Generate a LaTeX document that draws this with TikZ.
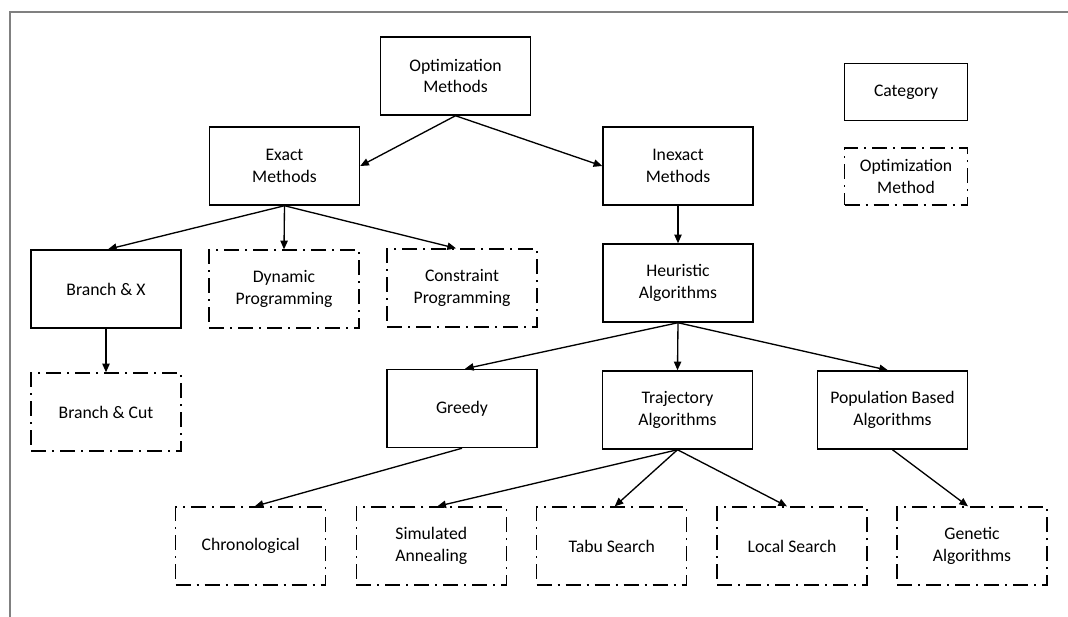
\documentclass[tikz,border=0pt]{standalone}
\usepackage{fontspec}
\setmainfont{Carlito}
\usetikzlibrary{arrows.meta}
\definecolor{framegray}{RGB}{128,128,128}
\begin{document}
\begin{tikzpicture}[x=0.75pt,y=-0.75pt,
  catbox/.style={draw, line width=1.1pt, minimum width=112.5pt, minimum height=58.5pt,
    inner sep=0pt, align=center, font=\fontsize{13.25pt}{16.2pt}\selectfont},
  methbox/.style={catbox, line width=1pt, dash pattern=on 11.25pt off 4.5pt on 1.5pt off 4.5pt},
  legcat/.style={catbox, minimum width=92.25pt, minimum height=42.75pt},
  legmeth/.style={methbox, minimum width=92.25pt, minimum height=42.75pt},
  arr/.style={-{Triangle[length=6.5pt,width=5.5pt]}, line width=1pt}]
\useasboundingbox (0,0) rectangle (1068,617);
\draw[framegray, line width=1.5pt] (1068,12) -- (10,12) -- (10,617);

% nodes
\node[catbox] (opt) at (455.5,76) {Optimization\\Methods};
\node[catbox] (exact) at (284.5,166) {Exact\\Methods};
\node[catbox] (inexact) at (678,166) {Inexact\\Methods};
\node[catbox] (heur) at (678,283) {Heuristic\\Algorithms};
\node[catbox] (bx) at (106,289) {Branch \& X};
\node[methbox] (dyn) at (284,289) {Dynamic\\Programming};
\node[methbox] (cons) at (462,288) {Constraint\\Programming};
\node[methbox] (bcut) at (106,412) {Branch \& Cut};
\node[catbox] (greedy) at (462,408.5) {Greedy};
\node[catbox] (traj) at (677.5,410) {Trajectory\\Algorithms};
\node[catbox] (pop) at (892.5,410) {Population Based\\Algorithms};
\node[methbox] (chron) at (250.7,546) {Chronological};
\node[methbox] (sim) at (431.3,546) {Simulated\\Annealing};
\node[methbox] (tabu) at (611.7,546) {Tabu Search};
\node[methbox] (local) at (792,546) {Local Search};
\node[methbox] (gen) at (972,546) {Genetic\\Algorithms};
\node[legcat] (legc) at (906,92) {Category};
\node[legmeth] (legm) at (906,176.5) {Optimization\\Method};

% connectors
\draw[arr] (opt.south) -- (exact.east);
\draw[arr] (opt.south) -- (inexact.west);
\draw[arr] (exact.south) -- ([xshift=1.5pt]bx.north);
\draw[arr] (exact.south) -- (dyn.north);
\draw[arr] (exact.south) -- ([xshift=-4.5pt]cons.north);
\draw[arr] (bx.south) -- (bcut.north);
\draw[arr] (inexact.south) -- (heur.north);
\draw[arr] (heur.south) -- ([xshift=2.25pt]greedy.north);
\draw[arr] (heur.south) -- (traj.north);
\draw[arr] (heur.south) -- ([xshift=-3.4pt]pop.north);
\draw[arr] (greedy.south) -- ([xshift=3pt]chron.north);
\draw[arr] (traj.south) -- ([xshift=4.5pt]sim.north);
\draw[arr] (traj.south) -- ([xshift=2.25pt]tabu.north);
\draw[arr] (traj.south) -- ([xshift=-3.75pt]local.north);
\draw[arr] (pop.south) -- ([xshift=-3pt]gen.north);
\end{tikzpicture}
\end{document}
